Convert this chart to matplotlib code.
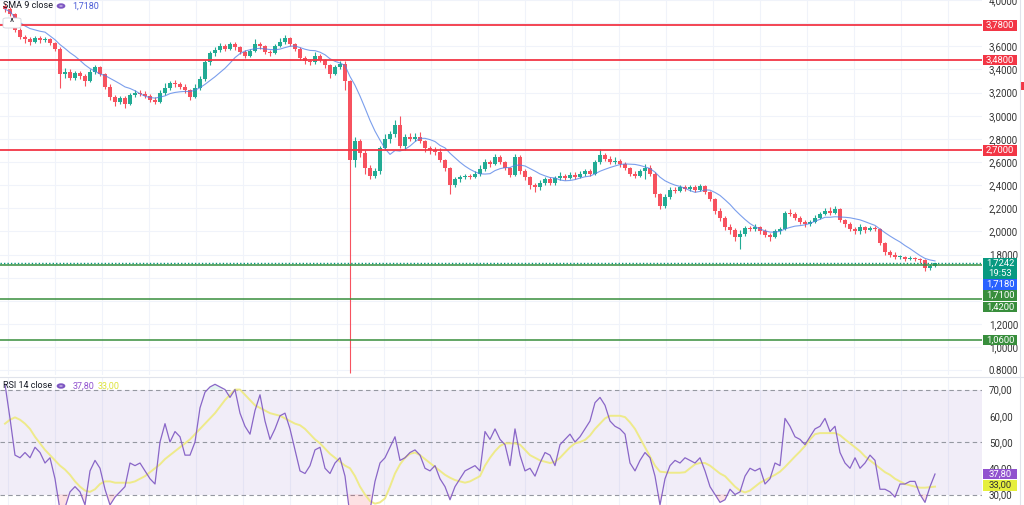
import matplotlib
matplotlib.use("Agg")
import matplotlib.pyplot as plt
from matplotlib.patches import Rectangle, FancyBboxPatch
import numpy as np
import pandas as pd

plt.rcParams['font.family'] = ['Roboto', 'DejaVu Sans']

# ---- price candles (open of each candle = previous close) ----
first_open = 3.95
closes = [
    3.92, 3.88, 3.74, 3.68, 3.66, 3.64, 3.67, 3.65, 3.66, 3.63,
    3.58, 3.36, 3.38, 3.33, 3.37, 3.34, 3.30, 3.38, 3.42, 3.36,
    3.25, 3.16, 3.12, 3.15, 3.10, 3.18, 3.20, 3.19, 3.17, 3.14,
    3.12, 3.20, 3.24, 3.28, 3.27, 3.25, 3.22, 3.16, 3.24, 3.32,
    3.46, 3.54, 3.57, 3.60, 3.58, 3.62, 3.59, 3.55, 3.52, 3.56,
    3.62, 3.60, 3.55, 3.54, 3.60, 3.64, 3.67, 3.62, 3.58, 3.50,
    3.47, 3.46, 3.52, 3.48, 3.44, 3.36, 3.42, 3.45, 3.30, 2.62,
    2.78, 2.68, 2.55, 2.48, 2.52, 2.72, 2.80, 2.84, 2.92, 2.74,
    2.82, 2.80, 2.82, 2.78, 2.72, 2.70, 2.69, 2.62, 2.55, 2.40,
    2.45, 2.47, 2.48, 2.47, 2.50, 2.54, 2.60, 2.58, 2.64, 2.60,
    2.55, 2.49, 2.64, 2.52, 2.47, 2.40, 2.38, 2.42, 2.45, 2.42,
    2.46, 2.48, 2.46, 2.49, 2.47, 2.50, 2.52, 2.50, 2.60, 2.66,
    2.63, 2.60, 2.61, 2.58, 2.55, 2.50, 2.48, 2.52, 2.55, 2.50,
    2.32, 2.22, 2.30, 2.36, 2.35, 2.38, 2.37, 2.38, 2.36, 2.39,
    2.34, 2.28, 2.18, 2.12, 2.04, 2.01, 1.95, 1.98, 2.03, 2.02,
    2.04, 2.00, 1.97, 1.95, 2.00, 2.02, 2.16, 2.15, 2.12, 2.08,
    2.06, 2.08, 2.12, 2.15, 2.18, 2.16, 2.19, 2.10, 2.06, 2.02,
    2.00, 2.04, 2.01, 2.03, 2.02, 1.90, 1.82, 1.80, 1.78, 1.78,
    1.76, 1.77, 1.76, 1.75, 1.68, 1.70, 1.724,
]
highs = [
    3.97, 3.94, 3.89, 3.76, 3.70, 3.68, 3.69, 3.69, 3.68, 3.67,
    3.64, 3.59, 3.41, 3.40, 3.39, 3.39, 3.36, 3.40, 3.44, 3.43,
    3.37, 3.27, 3.18, 3.17, 3.17, 3.20, 3.22, 3.22, 3.21, 3.19,
    3.16, 3.22, 3.28, 3.30, 3.31, 3.29, 3.27, 3.23, 3.27, 3.34,
    3.48, 3.56, 3.59, 3.63, 3.62, 3.64, 3.64, 3.60, 3.57, 3.58,
    3.66, 3.64, 3.61, 3.57, 3.62, 3.67, 3.70, 3.68, 3.63, 3.59,
    3.52, 3.49, 3.55, 3.53, 3.49, 3.45, 3.44, 3.47, 3.47, 3.31,
    2.82, 2.80, 2.70, 2.57, 2.55, 2.74, 2.84, 2.87, 2.96, 3.00,
    2.84, 2.85, 2.85, 2.86, 2.79, 2.74, 2.73, 2.72, 2.63, 2.56,
    2.47, 2.49, 2.50, 2.50, 2.52, 2.57, 2.63, 2.62, 2.67, 2.66,
    2.61, 2.56, 2.67, 2.66, 2.54, 2.48, 2.42, 2.44, 2.47, 2.47,
    2.48, 2.51, 2.50, 2.51, 2.51, 2.52, 2.54, 2.54, 2.62, 2.71,
    2.68, 2.65, 2.64, 2.63, 2.60, 2.56, 2.52, 2.54, 2.58, 2.57,
    2.51, 2.33, 2.32, 2.38, 2.38, 2.40, 2.40, 2.40, 2.40, 2.41,
    2.40, 2.35, 2.29, 2.20, 2.13, 2.06, 2.03, 2.01, 2.05, 2.05,
    2.06, 2.05, 2.02, 1.99, 2.02, 2.04, 2.18, 2.19, 2.17, 2.13,
    2.10, 2.10, 2.14, 2.17, 2.20, 2.21, 2.22, 2.20, 2.11, 2.08,
    2.04, 2.06, 2.05, 2.05, 2.05, 2.03, 1.91, 1.84, 1.82, 1.80,
    1.79, 1.79, 1.78, 1.77, 1.76, 1.72, 1.73,
]
lows = [
    3.90, 3.86, 3.72, 3.66, 3.63, 3.61, 3.63, 3.63, 3.64, 3.61,
    3.56, 3.24, 3.33, 3.31, 3.31, 3.32, 3.26, 3.29, 3.36, 3.34,
    3.23, 3.14, 3.08, 3.10, 3.07, 3.09, 3.16, 3.17, 3.15, 3.12,
    3.10, 3.11, 3.18, 3.22, 3.25, 3.23, 3.20, 3.14, 3.15, 3.22,
    3.30, 3.44, 3.52, 3.55, 3.56, 3.57, 3.57, 3.53, 3.50, 3.51,
    3.55, 3.58, 3.53, 3.52, 3.53, 3.59, 3.62, 3.60, 3.56, 3.48,
    3.45, 3.44, 3.45, 3.46, 3.41, 3.33, 3.35, 3.40, 3.22, 0.78,
    2.56, 2.64, 2.50, 2.45, 2.46, 2.50, 2.70, 2.76, 2.82, 2.72,
    2.70, 2.78, 2.78, 2.76, 2.69, 2.67, 2.66, 2.60, 2.52, 2.32,
    2.38, 2.43, 2.45, 2.45, 2.46, 2.48, 2.52, 2.56, 2.57, 2.58,
    2.53, 2.47, 2.48, 2.50, 2.44, 2.37, 2.34, 2.36, 2.40, 2.40,
    2.40, 2.44, 2.44, 2.45, 2.45, 2.46, 2.48, 2.48, 2.49, 2.58,
    2.61, 2.58, 2.58, 2.56, 2.53, 2.48, 2.46, 2.47, 2.45, 2.48,
    2.30, 2.19, 2.20, 2.28, 2.33, 2.34, 2.35, 2.35, 2.34, 2.35,
    2.32, 2.26, 2.15, 2.09, 2.01, 1.98, 1.92, 1.85, 1.96, 2.00,
    2.00, 1.98, 1.95, 1.92, 1.94, 1.98, 2.01, 2.13, 2.10, 2.06,
    2.04, 2.05, 2.07, 2.11, 2.14, 2.14, 2.15, 2.08, 2.04, 2.00,
    1.98, 1.98, 1.99, 2.00, 2.00, 1.88, 1.80, 1.78, 1.76, 1.76,
    1.74, 1.75, 1.74, 1.73, 1.66, 1.67, 1.69,
]

# ---- RSI 14 and its moving average ----
rsi = [
    72, 59, 45, 44, 46, 44, 48, 46, 42, 44,
    36, 24, 25, 31, 33, 31, 26, 39, 43, 40,
    32, 26, 29, 31, 33, 42, 41, 42, 39, 36,
    34, 50, 57, 50, 54, 52, 45, 45, 50, 63,
    69, 71, 72, 71, 70, 67, 70, 61, 56, 53,
    62, 68, 58, 51, 55, 60, 61, 55, 47, 39,
    38, 41, 47, 48, 40, 38, 42, 44, 37, 22,
    24, 25, 23, 24, 35, 42, 44, 48, 52, 43,
    44, 46, 47, 45, 40, 39, 41, 36, 33, 28,
    33, 36, 39, 40, 41, 39, 54, 51, 55, 51,
    49, 41, 55, 45, 39, 40, 37, 42, 46, 45,
    41, 49, 51, 53, 50, 52, 55, 58, 65, 67,
    64, 58, 56, 55, 53, 42, 39, 43, 46, 44,
    37, 26, 36, 41, 43, 42, 44, 43, 42, 44,
    39, 33, 30, 27, 28, 32, 30, 31, 37, 40,
    39, 40, 34, 36, 42, 41, 59, 56, 52, 51,
    49, 52, 55, 56, 59, 54, 56, 46, 42, 40,
    44, 40, 42, 45, 43, 32, 32, 31, 29, 34,
    34, 35, 35, 30, 27, 33, 37.8,
]
rsi_ma = [
    57, 58.5, 59.4, 58.5, 57, 55, 52, 49.5, 47, 45,
    43, 41, 39.5, 37.5, 35, 33, 31.5, 31, 32, 34,
    35, 35, 34.5, 34.5, 34.5, 34.5, 35, 36, 37, 38.5,
    40, 41.5, 43.5, 45, 46.5, 48, 49.5, 51, 53, 55,
    57, 59, 61, 63.5, 66, 68, 70, 70, 68, 66,
    64, 63, 62, 61, 60.5, 60, 59, 58, 57, 56.4,
    55, 53, 51, 49.5, 47.5, 45.5, 44, 42.5, 41, 40,
    37, 33, 30, 27.5, 26.5, 27, 28.5, 33, 38, 41.5,
    44, 45.5, 46, 45, 43.5, 42, 40.5, 39, 37.5, 36.4,
    35.5, 35, 34.5, 35, 36, 37, 41, 44, 46.5, 48.5,
    49.5, 49.5, 49.5, 49, 47, 45, 44, 43, 42.5, 42,
    42.5, 44, 46, 48, 49.5, 50, 50.8, 52.5, 55, 57,
    59, 60, 60, 60, 59.5, 57.5, 55, 51.5, 48, 44.5,
    41, 38.7, 38.5, 38.3, 38.3, 38.3, 38.5, 40, 41.5, 42,
    42, 41, 39.5, 38, 37, 35, 33, 31.5, 30.8, 31.5,
    33, 34.5, 35.5, 36.5, 37.5, 38.7, 40.5, 42.5, 44.5, 46.4,
    48.5, 51, 53, 53.4, 53.4, 53.4, 53.4, 52.6, 51, 49.5,
    48, 46.5, 44.5, 43, 41.5, 40, 38.5, 37.5, 36, 35,
    34, 33.5, 33, 32.6, 32.6, 32.8, 33,
]

# ---- levels and scale labels ----
red_levels = [3.78, 3.48, 2.70]
green_levels = [1.71, 1.42, 1.06]
last_price = 1.7242
countdown = "19:53"
sma_value = 1.7180
price_ticks = [4.0, 3.8, 3.6, 3.4, 3.2, 3.0, 2.8, 2.6, 2.4, 2.2, 2.0, 1.8, 1.6, 1.4, 1.2, 1.0, 0.8]
# 1,6000 and 1,4000 sit fully under the price tags, so they stay blank
price_tick_labels = ["4,0000", "3,8000", "3,6000", "3,4000", "3,2000", "3,0000", "2,8000", "2,6000",
                     "2,4000", "2,2000", "2,0000", "1,8000", "", "", "1,2000", "1,0000", "0.8000"]
rsi_ticks = [70, 60, 50, 40, 30]
rsi_last = 37.80
rsi_ma_last = 33.00

W, H = 1024, 505
UP, DOWN = '#22ab94', '#f7525f'
RED, GREEN, TEAL, BLUE = '#f23645', '#388e3c', '#089981', '#2962ff'
PURPLE, YELLOW = '#7e57c2', '#e6ef3c'
GRID = '#f0f3fa'


def fmt(v, d=4):
    return f"{v:.{d}f}".replace('.', ',')


def tag(fig, y_px, text, face, color='white', h=10.5):
    # coloured price tag on the right scale, y_px counted from the top
    fig.patches.append(Rectangle((983 / W, 1 - (y_px + h / 2) / H), 34 / W, h / H,
                                 transform=fig.transFigure, facecolor=face,
                                 edgecolor='none', zorder=5))
    fig.text(1000 / W, 1 - y_px / H, text, ha='center', va='center', color=color,
             fontsize=6.8, zorder=6, linespacing=1.15)


def draw_chart():
    fig = plt.figure(figsize=(W / 100, H / 100), dpi=100)
    ax = fig.add_axes([0, 130 / H, 982 / W, 375 / H])
    ax2 = fig.add_axes([0, 0, 982 / W, 127 / H])

    n = len(closes)
    x = np.arange(n)
    c = np.array(closes)
    o = np.array([first_open] + closes[:-1])
    hi, lo = np.array(highs), np.array(lows)
    up = c >= o
    cols = np.where(up, UP, DOWN)

    # vertical grid (time ticks)
    for gx in np.arange(0.6, 196, 9.4):
        ax.axvline(gx, color=GRID, lw=0.8, zorder=0)
        ax2.axvline(gx, color=GRID, lw=0.8, zorder=0)
    for t in price_ticks:
        ax.axhline(t, color=GRID, lw=0.8, zorder=0)

    # candles
    ax.vlines(x, lo, hi, colors=cols, lw=0.8, zorder=2)
    body = np.maximum(np.abs(c - o), 0.004)
    ax.bar(x, body, bottom=np.minimum(o, c), width=0.62, color=cols, zorder=3, linewidth=0)

    sma = pd.Series(closes).rolling(9, min_periods=1).mean()
    ax.plot(x, sma, color='#4f7fe6', lw=0.8, alpha=0.75, zorder=4)

    for lv in red_levels:
        ax.axhline(lv, color=RED, lw=1.3, zorder=4)
    for lv in green_levels:
        ax.axhline(lv, color=GREEN, lw=1.1, zorder=4)
    ax.axhline(last_price, color=TEAL, lw=1.0, ls=(0, (1, 1.5)), zorder=4)

    ax.set_xlim(-1, 195.4)
    ax.set_ylim(0.759, 3.978)
    ax.set_xticks([])
    ax.yaxis.tick_right()
    ax.set_yticks(price_ticks)
    ax.set_yticklabels(price_tick_labels)
    ax.tick_params(axis='y', length=0, pad=5, labelsize=7, labelcolor='#333333')
    for s in ax.spines.values():
        s.set_visible(False)

    # RSI pane
    r = np.array(rsi)
    ax2.axhspan(30, 70, color=PURPLE, alpha=0.1, lw=0, zorder=0)
    for lv in [70, 50, 30]:
        ax2.axhline(lv, color='#9598a1', lw=0.8, ls=(0, (4, 3)), zorder=1)
    ax2.fill_between(x, r, 30, where=r < 30, interpolate=True, color=RED, alpha=0.15, lw=0)
    ax2.fill_between(x, r, 70, where=r > 70, interpolate=True, color=UP, alpha=0.12, lw=0)
    ax2.plot(x, rsi_ma, color='#eeea8a', lw=1.4, zorder=2)
    ax2.plot(x, r, color=PURPLE, lw=0.9, zorder=3, alpha=0.9)
    ax2.set_xlim(-1, 195.4)
    ax2.set_ylim(26.0, 74.4)
    ax2.set_xticks([])
    ax2.yaxis.tick_right()
    ax2.set_yticks(rsi_ticks)
    ax2.set_yticklabels([fmt(t, 2) for t in rsi_ticks])
    ax2.tick_params(axis='y', length=0, pad=5, labelsize=7, labelcolor='#333333')
    for s in ax2.spines.values():
        s.set_visible(False)

    # pane separator and right edge
    fig.add_artist(plt.Line2D([0, 1], [1 - 376.5 / H] * 2, color='#e0e3eb', lw=0.8))
    fig.add_artist(plt.Line2D([1019.5 / W] * 2, [0, 1], color='#e0e3eb', lw=0.8))
    fig.patches.append(Rectangle((1020 / W, 1 - 90 / H), 4 / W, 8 / H, transform=fig.transFigure,
                                 facecolor=RED, edgecolor='none'))

    # price scale tags
    for lv in red_levels:
        ypx = H - ax.transData.transform((0, lv))[1]
        tag(fig, ypx, fmt(lv), RED)
    tag(fig, 268.5, fmt(last_price) + "\n" + countdown, TEAL, h=21)
    tag(fig, 284.5, fmt(sma_value), BLUE)
    tag(fig, 295.5, fmt(green_levels[0]), GREEN)
    tag(fig, 307, fmt(green_levels[1]), GREEN)
    tag(fig, 340, fmt(green_levels[2]), GREEN)
    tag(fig, 474, fmt(rsi_last, 2), '#9152cf')
    tag(fig, 485.5, fmt(rsi_ma_last, 2), YELLOW, color='#333333')

    # legends
    fs = 6.5
    fig.text(3 / W, 1 - 6 / H, "SMA 9 close", fontsize=fs, color='#131722', va='center')
    fig.text(72 / W, 1 - 6 / H, fmt(sma_value), fontsize=fs, color='#4a5bd6', va='center')
    fig.text(3 / W, 1 - 386 / H, "RSI 14 close", fontsize=fs, color='#131722', va='center')
    fig.text(73 / W, 1 - 386 / H, fmt(rsi_last, 2), fontsize=fs, color='#9152cf', va='center')
    fig.text(98 / W, 1 - 386 / H, fmt(rsi_ma_last, 2), fontsize=fs, color='#dde33a', va='center')
    for ypx in (6, 386):
        fig.add_artist(plt.Circle((61 / W, 1 - ypx / H), 3.2 / W, transform=fig.transFigure,
                                  fill=False, ec='#7e57c2', lw=1.6))
    fig.patches.append(FancyBboxPatch((3 / W, 1 - 28 / H), 18 / W, 10 / H, transform=fig.transFigure,
                                      boxstyle='round,pad=0,rounding_size=0.003',
                                      facecolor='white', edgecolor='#d1d4dc', lw=0.6, zorder=5))
    fig.text(12 / W, 1 - 23 / H, "^", fontsize=7, ha='center', va='center', color='#131722', zorder=6)

    fig.savefig('out.png', dpi=100)


if __name__ == '__main__':
    draw_chart()
